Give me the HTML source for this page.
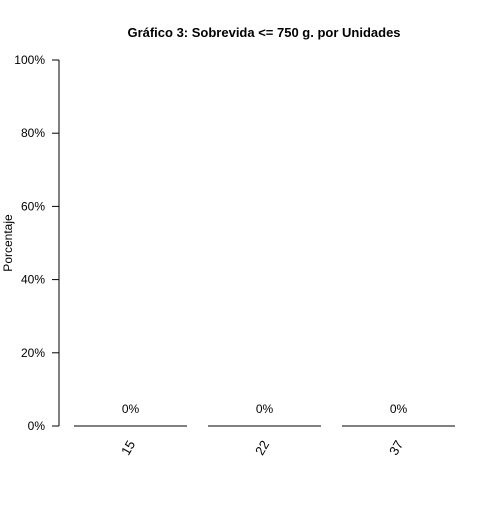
<!DOCTYPE html>
<html><head><meta charset="utf-8"><style>body{margin:0;background:#fff}svg{font-family:"Liberation Sans",sans-serif}</style></head>
<body>
<svg width="500" height="500">
<text x="264" y="37" text-anchor="middle" font-weight="bold" font-size="13">Gráfico 3: Sobrevida &lt;= 750 g. por Unidades</text>
<text transform="translate(12,243) rotate(-90)" text-anchor="middle" font-size="12">Porcentaje</text>
<g id="yaxis"></g>
<g id="bars"></g>
</svg>
<script>
const categories=["15","22","37"];
const values=[0,0,0];
const yTicks=[0,20,40,60,80,100];
const ns="http://www.w3.org/2000/svg";
const y=v=>426-v*3.66;
const ya=document.getElementById('yaxis'),bg=document.getElementById('bars');
function mk(t,a,p){const e=document.createElementNS(ns,t);for(const k in a)e.setAttribute(k,a[k]);p.appendChild(e);return e;}
const ax=mk('line',{x1:59,x2:59,y1:y(100),y2:y(0),stroke:'#000'},ya);


yTicks.forEach(v=>{
 const l=mk('line',{x1:52,x2:59,y1:y(v),y2:y(v),stroke:'#000'},ya);
 
 
 const t=mk('text',{x:45,y:y(v)+4,'text-anchor':'end','font-size':12},ya);
 t.textContent=v+'%';
 
 
});
categories.forEach((c,i)=>{
 const x0=74+i*134,w=113,v=values[i];
 const r=mk('rect',{x:x0,y:y(v)-0.5,width:w,height:Math.max(1,y(0)-y(v)),fill:v>0?'#ccc':'#000',stroke:'#000','stroke-width':v>0?1:0},bg);
 
 
 const t=mk('text',{x:x0+w/2,y:y(v)-13,'text-anchor':'middle','font-size':12},bg);
 t.textContent=v+'%';
 
 
 const cx=x0+w/2-2,cy=448;
 const l=mk('text',{x:0,y:4,'text-anchor':'middle','font-size':13,transform:`translate(${cx},${cy}) rotate(-60)`},bg);
 l.textContent=c;
 
 
});
</script>
</body></html>
